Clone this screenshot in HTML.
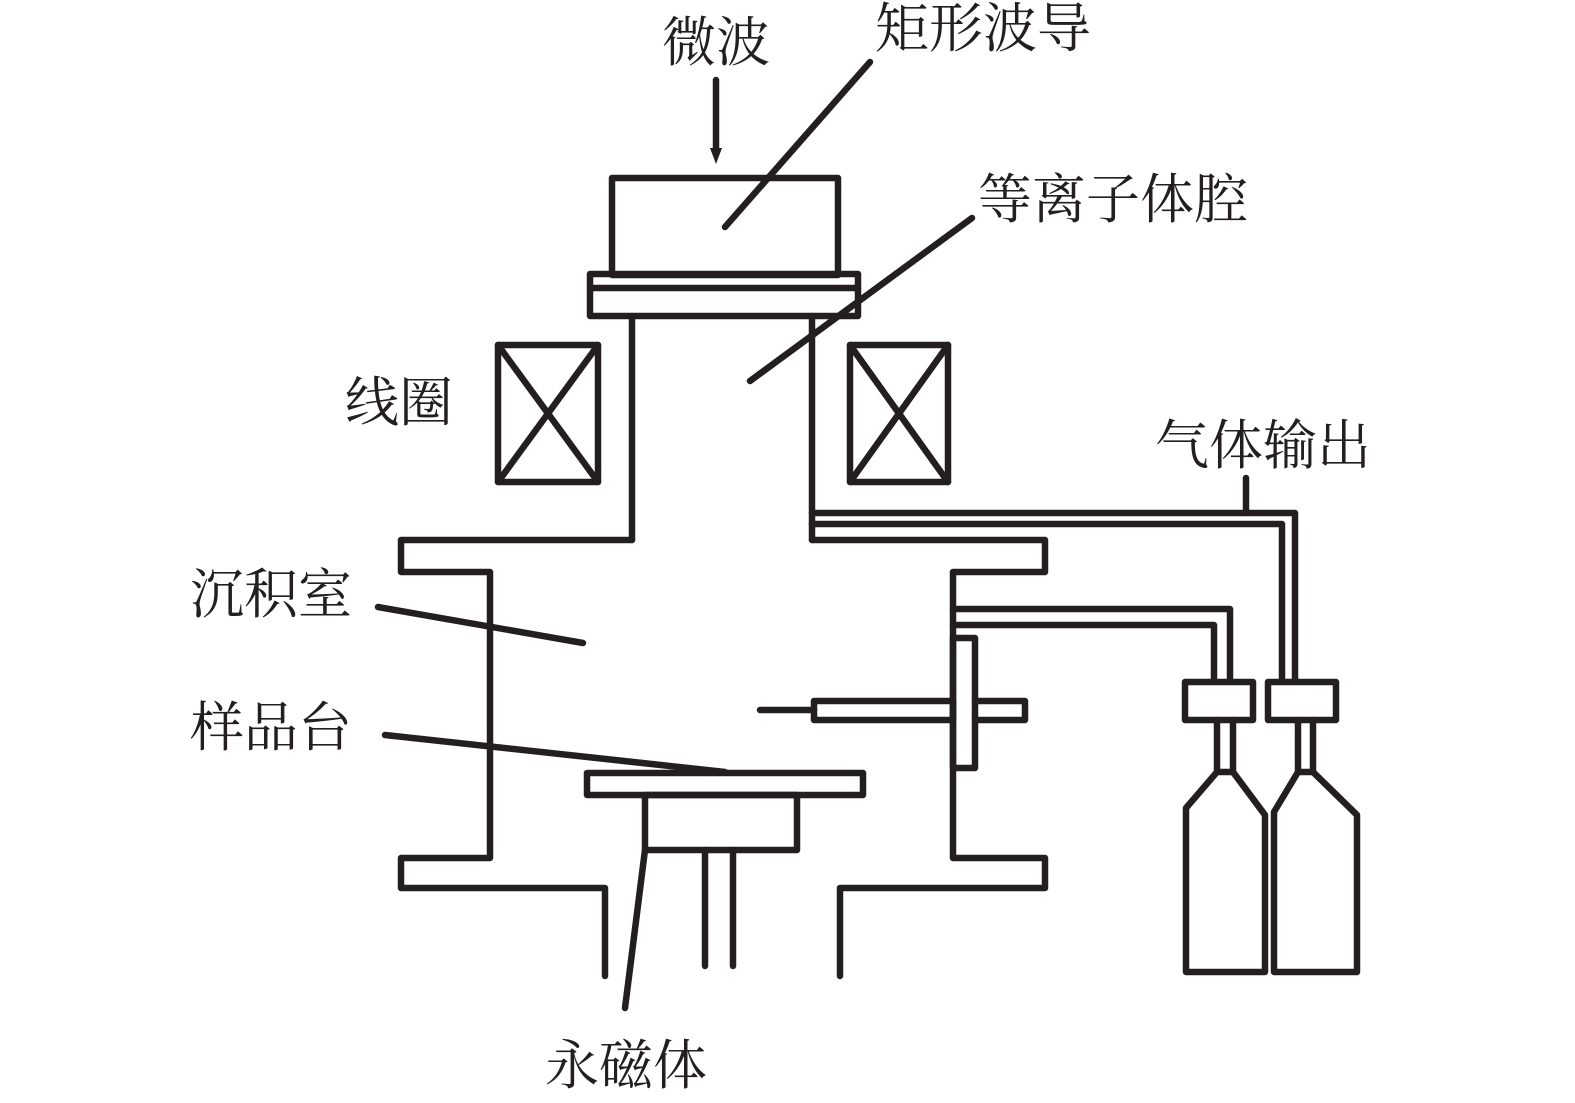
<!DOCTYPE html>
<html><head><meta charset="utf-8"><style>
html,body{margin:0;padding:0;background:#fff;}
svg{display:block}
text{font-family:"Liberation Serif","Noto Serif CJK SC","Noto Sans CJK SC",serif;font-size:54px;fill:#231f20}
</style></head><body>
<svg width="1575" height="1103" viewBox="0 0 1575 1103" xmlns="http://www.w3.org/2000/svg">
<g fill="none" stroke="#231f20" stroke-width="6.5" stroke-linejoin="round" stroke-linecap="round">
<rect x="612" y="178" width="226" height="97"/>
<rect x="590" y="274" width="268" height="42"/>
<line x1="590" y1="288" x2="858" y2="288"/>
<line x1="632" y1="316" x2="632" y2="540"/>
<line x1="812" y1="316" x2="812" y2="540"/>
<rect x="498" y="345" width="100" height="137"/>
<line x1="498" y1="345" x2="598" y2="482"/><line x1="598" y1="345" x2="498" y2="482"/>
<rect x="850" y="345" width="98" height="137"/>
<line x1="850" y1="345" x2="948" y2="482"/><line x1="948" y1="345" x2="850" y2="482"/>
<polyline points="632,540 401,540 401,572 490,572 490,858 401,858 401,888 605,888 605,976"/>
<polyline points="812,540 1045,540 1045,572 953,572 953,858 1045,858 1045,888 840,888 840,976"/>
<polyline points="812,513 1295,513 1295,682"/>
<polyline points="812,524 1282,524 1282,682"/>
<line x1="1246" y1="478" x2="1246" y2="513"/>
<polyline points="953,609 1230,609 1230,682"/>
<polyline points="953,625 1214,625 1214,682"/>
<rect x="953" y="638" width="22" height="130"/>
<polyline points="975,701 1025,701 1025,720 975,720"/>
<rect x="814" y="701" width="139" height="19"/>
<line x1="760" y1="710" x2="814" y2="710"/>
<rect x="1185" y="682" width="68" height="38"/>
<rect x="1268" y="682" width="68" height="38"/>
<line x1="1217" y1="720" x2="1217" y2="772"/><line x1="1233" y1="720" x2="1233" y2="772"/>
<polygon points="1217,772 1233,772 1265,815 1265,972 1186,972 1186,808"/>
<line x1="1298" y1="720" x2="1298" y2="772"/><line x1="1313" y1="720" x2="1313" y2="772"/>
<polygon points="1298,772 1313,772 1357,815 1357,972 1274,972 1274,812"/>
<rect x="587" y="773" width="276" height="22"/>
<rect x="645" y="795" width="152" height="55"/>
<line x1="705" y1="850" x2="705" y2="966"/>
<line x1="733" y1="850" x2="733" y2="966"/>
<line x1="870" y1="62" x2="725" y2="227"/>
<line x1="972" y1="218" x2="750" y2="381"/>
<line x1="378" y1="607" x2="583" y2="643"/>
<line x1="385" y1="735" x2="725" y2="772"/>
<line x1="645" y1="850" x2="625" y2="1008"/>
<line x1="716" y1="80" x2="716" y2="150"/>
</g>
<polygon points="710,148 722,148 716,164" fill="#231f20"/>
<text x="662" y="61">微波</text>
<text x="875" y="47">矩形波导</text>
<text x="978" y="218">等离子体腔</text>
<text x="345" y="421">线圈</text>
<text x="1155" y="464">气体输出</text>
<text x="190" y="613">沉积室</text>
<text x="190" y="746">样品台</text>
<text x="545" y="1084">永磁体</text>
</svg>
</body></html>
